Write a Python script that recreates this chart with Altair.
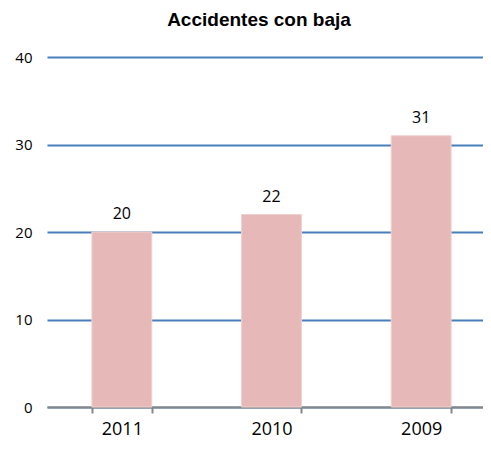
import altair as alt
import pandas as pd

years = ["2011", "2010", "2009"]
values = [20, 22, 31]

df = pd.DataFrame({"year": years, "value": values})

base = alt.Chart(df).encode(
    x=alt.X("year:N", sort=years, title=None,
            scale=alt.Scale(range=[0, 449], paddingInner=0.6, paddingOuter=0.3),
            axis=alt.Axis(labelAngle=0, labelFontSize=18, labelColor="#000000",
                          labelFont="Open Sans", labelPadding=7,
                          domainColor="#878787", domainWidth=2,
                          tickColor="#878787", tickWidth=2, tickSize=6,
                          tickBand="extent", grid=False)),
)

bars = base.mark_bar(color="#e6b9b8", stroke="#f0d0cf", strokeWidth=1).encode(
    y=alt.Y("value:Q", title=None,
            scale=alt.Scale(domain=[0, 40], nice=False),
            axis=alt.Axis(values=[0, 10, 20, 30, 40], grid=True,
                          gridColor="#4a7ebb", gridWidth=2,
                          domain=False, ticks=False, labelPadding=15,
                          labelFontSize=15, labelColor="#000000",
                          labelFont="Open Sans")),
)

labels = base.mark_text(dy=-13, fontSize=16, font="Open Sans", color="#000000",
                        baseline="alphabetic").encode(
    y=alt.Y("value:Q"),
    text=alt.Text("value:Q"),
)

chart = alt.layer(bars, labels).properties(
    width=436,
    height=350,
    title=alt.TitleParams("Accidentes con baja", font="Liberation Sans Narrow, Liberation Sans",
                          fontSize=19, fontWeight="bold", color="#000000",
                          anchor="middle", offset=20, dx=-6),
    autosize=alt.AutoSizeParams(type="none"),
    padding={"left": 39, "top": 49, "right": 0, "bottom": 35},
).configure_view(stroke=None)

chart.save("out.html", embed_options={"renderer": "svg", "actions": False})
